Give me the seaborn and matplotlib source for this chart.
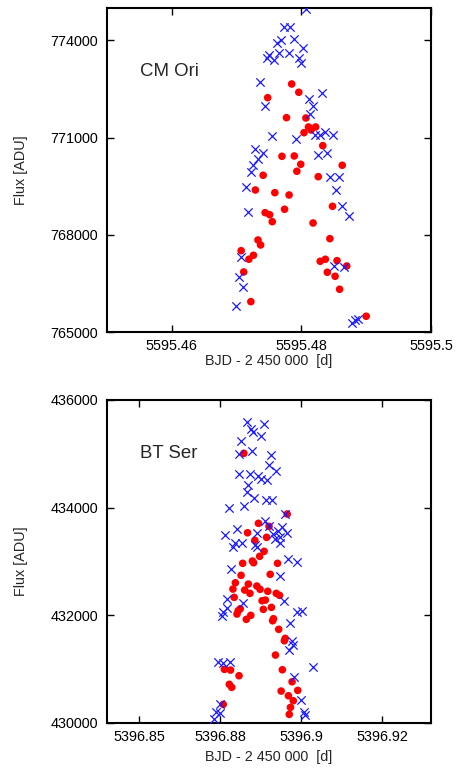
import matplotlib
matplotlib.use("Agg")
import matplotlib.pyplot as plt
import seaborn as sns
import pandas as pd

# ---------------- data: CM Ori ----------------
cm_red_x = [5595.4785, 5595.4796, 5595.4748, 5595.4777, 5595.4807, 5595.4811, 5595.4822,
            5595.4815, 5595.4804, 5595.4833, 5595.4770, 5595.4789, 5595.4799, 5595.4863,
            5595.4793, 5595.4741, 5595.4826, 5595.4729, 5595.4759, 5595.4781, 5595.4848,
            5595.4744, 5595.4751, 5595.4774, 5595.4755, 5595.4818, 5595.4844, 5595.4733,
            5595.4737, 5595.4707, 5595.4726, 5595.4719, 5595.4829, 5595.4837, 5595.4855,
            5595.4870, 5595.4840, 5595.4852, 5595.4711, 5595.4859, 5595.4722, 5595.4900]
cm_red_y = [772655, 772399, 772232, 771615, 771605, 771328, 771328,
            771235, 771152, 770751, 770423, 770433, 770177, 770146,
            769961, 769837, 769794, 769383, 769300, 769229, 768880,
            768683, 768621, 768788, 768405, 768365, 767881, 767840,
            767686, 767510, 767368, 767245, 767183, 767245, 767202,
            767038, 766844, 766720, 766853, 766319, 765936, 765486]
cm_blue_x = [5595.4807, 5595.4773, 5595.4783, 5595.4789, 5595.4769, 5595.4763, 5595.4803,
             5595.4766, 5595.4781, 5595.4750, 5595.4747, 5595.4758, 5595.4796, 5595.4799,
             5595.4736, 5595.4832, 5595.4811, 5595.4744, 5595.4818, 5595.4813, 5595.4755,
             5595.4792, 5595.4821, 5595.4829, 5595.4836, 5595.4848, 5595.4729, 5595.4740,
             5595.4825, 5595.4839, 5595.4733, 5595.4726, 5595.4722, 5595.4844, 5595.4858,
             5595.4714, 5595.4854, 5595.4718, 5595.4862, 5595.4873, 5595.4707, 5595.4851,
             5595.4866, 5595.4703, 5595.4710, 5595.4699, 5595.4878, 5595.4883, 5595.4888]
cm_blue_y = [774960, 774404, 774404, 774053, 774012, 773911, 773775,
             773602, 773621, 773550, 773448, 773395, 773448, 773312,
             772716, 772386, 772201, 771976, 771976, 771729, 771050,
             770948, 771072, 771090, 771173, 771072, 770649, 770535,
             770464, 770516, 770331, 770155, 769930, 769775, 769775,
             769467, 769374, 768695, 768890, 768590, 767325, 767038,
             766998, 766708, 766399, 765804, 765270, 765372, 765393]

# ---------------- data: BT Ser ----------------
bt_red_x = [5396.8808, 5396.8915, 5396.8844, 5396.8870, 5396.8817, 5396.8864, 5396.8835,
            5396.8858, 5396.8847, 5396.8829, 5396.8832, 5396.8805, 5396.8891, 5396.8801,
            5396.8873, 5396.8787, 5396.8819, 5396.8781, 5396.8840, 5396.8848, 5396.8810,
            5396.8823, 5396.8867, 5396.8888, 5396.8896, 5396.8784, 5396.8861, 5396.8853,
            5396.8856, 5396.8876, 5396.8799, 5396.8794, 5396.8791, 5396.8825, 5396.8814,
            5396.8881, 5396.8879, 5396.8894, 5396.8910, 5396.8908, 5396.8886, 5396.8760,
            5396.8775, 5396.8796, 5396.8903, 5396.8772, 5396.8778, 5396.8927, 5396.8941,
            5396.8900, 5396.8918, 5396.8930, 5396.8757, 5396.8923, 5396.8920]
bt_red_y = [435010, 433882, 433709, 433653, 433534, 433449, 433393,
            433189, 433096, 433009, 432977, 432966, 432966, 432743,
            432762, 432605, 432581, 432488, 432544, 432483, 432470,
            432408, 432446, 432408, 432371, 432334, 432284, 432271,
            432111, 432148, 432122, 432085, 432024, 432000, 431925,
            431937, 431899, 431740, 431572, 431528, 431262, 430996,
            430983, 430878, 430989, 430718, 430662, 430766, 430606,
            430593, 430506, 430413, 430346, 430290, 430160]
bt_blue_x = [5396.8815, 5396.8825, 5396.8830, 5396.8857, 5396.8851, 5396.8801, 5396.8795,
             5396.8828, 5396.8875, 5396.8870, 5396.8887, 5396.8797, 5396.8824, 5396.8844,
             5396.8850, 5396.8866, 5396.8819, 5396.8815, 5396.8834, 5396.8862, 5396.8877,
             5396.8772, 5396.8809, 5396.8910, 5396.8861, 5396.8792, 5396.8762, 5396.8840,
             5396.8871, 5396.8902, 5396.8891, 5396.8881, 5396.8915, 5396.8898, 5396.8886,
             5396.8896, 5396.8786, 5396.8803, 5396.8781, 5396.8836, 5396.8840, 5396.8917,
             5396.8938, 5396.8777, 5396.8896, 5396.8908, 5396.8766, 5396.8807, 5396.8767,
             5396.8757, 5396.8754, 5396.8939, 5396.8952, 5396.8923, 5396.8926, 5396.8929,
             5396.8920, 5396.8744, 5396.8756, 5396.8774, 5396.8979, 5396.8931, 5396.8949,
             5396.8748, 5396.8739, 5396.8749, 5396.8733, 5396.8956, 5396.8960]
bt_blue_y = [435586, 435456, 435400, 435554, 435331, 435233, 434997,
             435058, 434978, 434798, 434686, 434620, 434620, 434588,
             434538, 434514, 434426, 434296, 434174, 434142, 434142,
             433993, 434031, 433882, 433757, 433603, 433486, 433523,
             433659, 433646, 433572, 433510, 433523, 433460, 433412,
             433337, 433349, 433337, 433274, 433306, 433263, 433051,
             432990, 432866, 432730, 432271, 432308, 432223, 432135,
             432067, 431987, 432067, 432080, 431851, 431528, 431453,
             431355, 431126, 431108, 431126, 431034, 430859, 430426,
             430352, 430203, 430190, 430073, 430203, 430153]

# ---------------- axes / ticks ----------------
cm_xlim = (5595.45, 5595.50)
cm_ylim = (765000, 775000)
cm_xticks = [5595.46, 5595.48, 5595.50]
cm_xticklabels = ["5595.46", "5595.48", "5595.5"]
cm_yticks = [765000, 768000, 771000, 774000]
cm_yticklabels = ["765000", "768000", "771000", "774000"]

bt_xlim = (5396.847, 5396.927)
bt_ylim = (430000, 436000)
bt_xticks = [5396.855, 5396.875, 5396.895, 5396.915]
bt_xticklabels = ["5396.85", "5396.88", "5396.9", "5396.92"]
bt_yticks = [430000, 432000, 434000, 436000]
bt_yticklabels = ["430000", "432000", "434000", "436000"]

xlabel = "BJD - 2 450 000  [d]"
ylabel = "Flux [ADU]"

sns.set_style("ticks")
plt.rcParams["font.family"] = ["Liberation Sans", "DejaVu Sans"]

fig = plt.figure(figsize=(4.6, 7.68), dpi=100)
W, H = 460, 768
ax1 = fig.add_axes([107 / W, 1 - 332 / H, 324 / W, 324 / H])
ax2 = fig.add_axes([107 / W, 1 - 723 / H, 324 / W, 323 / H])


def draw(ax, rx, ry, bx, by, xlim, ylim, xt, xtl, yt, ytl, name, name_y, xlab_y):
    dr = pd.DataFrame({"x": rx, "y": ry})
    db = pd.DataFrame({"x": bx, "y": by})
    sns.scatterplot(data=dr, x="x", y="y", ax=ax, color="#ff0000", marker="o",
                    s=30, edgecolor="none", linewidth=0, zorder=3)
    sns.scatterplot(data=db, x="x", y="y", ax=ax, color="#1a1aff", marker="x",
                    s=36, linewidth=0.9, zorder=4)
    ax.set_xlim(*xlim)
    ax.set_ylim(*ylim)
    ax.set_xticks(xt)
    ax.set_xticklabels(xtl)
    ax.set_yticks(yt)
    ax.set_yticklabels(ytl)
    ax.tick_params(direction="in", length=5, width=1.0, top=True, right=True,
                   labelsize=10.4, colors="black")
    ax.tick_params(axis="x", pad=5)
    ax.tick_params(axis="y", pad=6.3)
    for sp in ax.spines.values():
        sp.set_visible(True)
        sp.set_linewidth(1.5)
        sp.set_color("black")
    ax.set_xlabel(xlabel, fontsize=10.4)
    ax.set_ylabel(ylabel, fontsize=10.4)
    ax.xaxis.label.set_va("center")
    ax.xaxis.set_label_coords(0.5, xlab_y)
    ax.yaxis.set_label_coords(-0.243, 0.5)
    ax.text(0.102, name_y, name, transform=ax.transAxes, fontsize=13.4,
            ha="left", va="center")


draw(ax1, cm_red_x, cm_red_y, cm_blue_x, cm_blue_y, cm_xlim, cm_ylim,
     cm_xticks, cm_xticklabels, cm_yticks, cm_yticklabels, "CM Ori", 0.803, -0.088)
draw(ax2, bt_red_x, bt_red_y, bt_blue_x, bt_blue_y, bt_xlim, bt_ylim,
     bt_xticks, bt_xticklabels, bt_yticks, bt_yticklabels, "BT Ser", 0.835, -0.105)

fig.savefig("out.png", dpi=100)
